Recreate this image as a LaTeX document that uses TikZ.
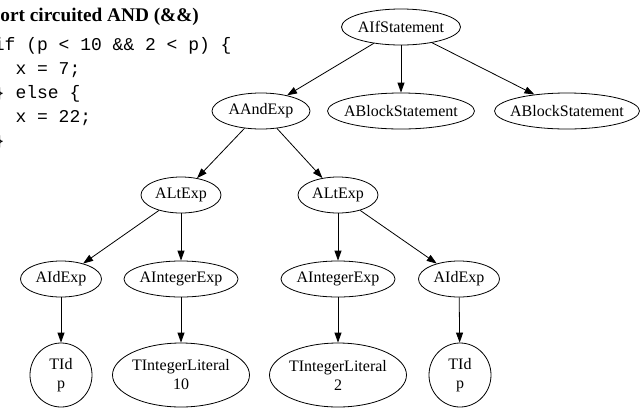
\documentclass[tikz,border=0pt]{standalone}
\usepackage{fontspec}
\setmainfont{Liberation Serif}
\setmonofont{Liberation Mono}
\usepackage{tikz}
\usetikzlibrary{shapes.geometric,arrows.meta}

\begin{document}
\begin{tikzpicture}[x=1pt,y=-1pt,line width=0.8pt,>={Triangle[length=10pt,width=7pt]},
		ast/.style={draw,ellipse,inner ysep=0pt,inner xsep=-8pt,minimum height=36pt,align=center,font=\fontsize{16}{19}\selectfont},
		leaf/.style={ast,minimum height=64pt}]
		\useasboundingbox (0,0) rectangle (643,408);
		\clip (0,0) rectangle (643,408);
		\node[anchor=base west,inner sep=0pt,font=\fontsize{19.3}{22}\selectfont\bfseries] (title) at (-21.5,21) {Short circuited AND (\&\&)};
		\node[anchor=north west,inner sep=0pt,align=left,font=\fontsize{18}{24}\selectfont\ttfamily] (code) at (-6.5,37) {if (p < 10 \&\& 2 < p) \{\\\phantom{xx}x = 7;\\\} else \{\\\phantom{xx}x = 22;\\\}};
		\node[ast,minimum width=119pt] (ifstmt) at (401,27) {AIfStatement};
		\node[ast,minimum width=98pt] (andexp) at (261,111) {AAndExp};
		\node[ast,minimum width=147pt] (blockl) at (401,111) {ABlockStatement};
		\node[ast,minimum width=145pt] (blockr) at (567,111) {ABlockStatement};
		\node[ast,minimum width=80pt] (ltl) at (181,195) {ALtExp};
		\node[ast,minimum width=80pt] (ltr) at (338,195) {ALtExp};
		\node[ast,minimum width=81pt] (idl) at (61,279) {AIdExp};
		\node[ast,minimum width=114pt] (intl) at (181,279) {AIntegerExp};
		\node[ast,minimum width=114pt] (intr) at (338,279) {AIntegerExp};
		\node[ast,minimum width=81pt] (idr) at (459,279) {AIdExp};
		\node[leaf,minimum width=62pt] (tidl) at (61,375) {TId\\p};
		\node[leaf,minimum width=137pt] (litl) at (181,375) {TIntegerLiteral\\10};
		\node[leaf,minimum width=137pt] (litr) at (338,375) {TIntegerLiteral\\2};
		\node[leaf,minimum width=62pt] (tidr) at (460,375) {TId\\p};
		\draw[->] (ifstmt) -- (andexp);
		\draw[->] (ifstmt) -- (blockl);
		\draw[->] (ifstmt) -- (blockr);
		\draw[->] (andexp) -- (ltl);
		\draw[->] (andexp) -- (ltr);
		\draw[->] (ltl) -- (idl);
		\draw[->] (ltl) -- (intl);
		\draw[->] (ltr) -- (intr);
		\draw[->] (ltr) -- (idr);
		\draw[->] (idl) -- (tidl);
		\draw[->] (intl) -- (litl);
		\draw[->] (intr) -- (litr);
		\draw[->] (idr) -- (tidr);
\end{tikzpicture}
\end{document}
